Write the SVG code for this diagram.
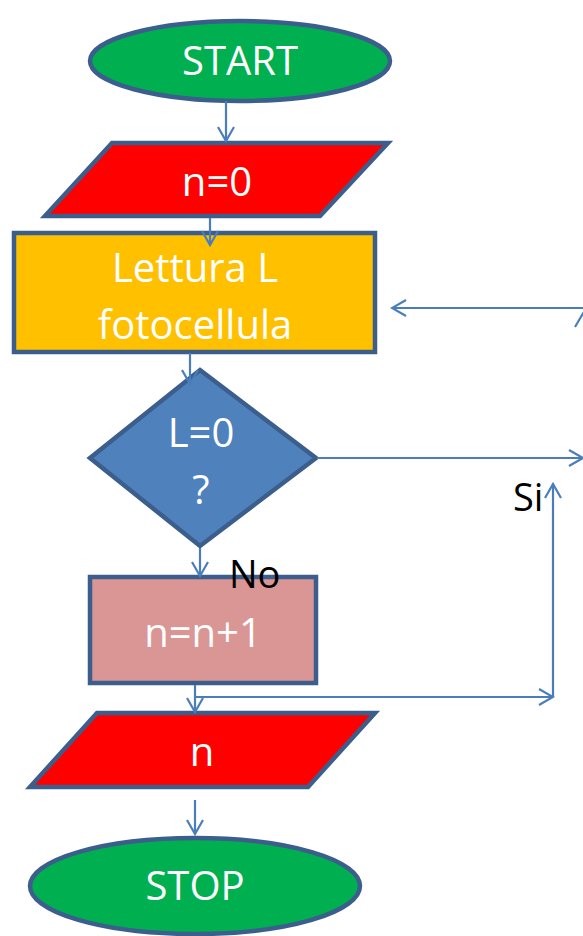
<svg xmlns="http://www.w3.org/2000/svg" width="583" height="936" viewBox="0 0 583 936">
<style>
.sh{stroke:#3B5E8C;stroke-width:4.5}
.t{font-family:"Open Sans","Liberation Sans",sans-serif;font-size:40px;fill:#fff;text-anchor:middle}
.k{font-family:"Open Sans","Liberation Sans",sans-serif;font-size:38px;fill:#000}
.c{fill:none;stroke:#4A7EBB;stroke-width:2.2}
</style>
<defs>
<marker id="a" viewBox="0 0 20 20" refX="18" refY="10" markerWidth="20" markerHeight="20" markerUnits="userSpaceOnUse" orient="auto">
<path d="M4,2 L18,10 L4,18" fill="none" stroke="#4A7EBB" stroke-width="2.2"/>
</marker>
</defs>
<g id="start"><ellipse class="sh" cx="240" cy="61" rx="150" ry="40" fill="#00B050"/><text class="t" x="240" y="75">START</text></g>
<g id="n0"><polygon class="sh" points="112,143 388,143 320,216 45,216" fill="#FF0000"/><text class="t" x="217" y="196">n=0</text></g>
<g id="lettura"><rect class="sh" x="14" y="233" width="361" height="119" fill="#FFC000"/><text class="t" x="195" y="282">Lettura L</text><text class="t" x="195" y="339">fotocellula</text></g>
<g id="cond"><polygon class="sh" points="200,370 316,458 200,546 90,458" fill="#4F81BD"/><text class="t" x="201" y="447">L=0</text><text class="t" x="201" y="504">?</text></g>
<g id="inc"><rect class="sh" x="90" y="577" width="226" height="106" fill="#D99694"/><text class="t" x="203" y="647">n=n+1</text></g>
<g id="out"><polygon class="sh" points="97,713 375,713 308,787 30,787" fill="#FF0000"/><text class="t" x="202" y="766">n</text></g>
<g id="stop"><ellipse class="sh" cx="195" cy="886" rx="165" ry="48" fill="#00B050"/><text class="t" x="195" y="900">STOP</text></g>
<g id="connectors">
<line class="c" x1="226" y1="101" x2="226" y2="141" marker-end="url(#a)"/>
<line class="c" x1="210" y1="218" x2="210" y2="245" marker-end="url(#a)"/>
<line class="c" x1="190" y1="353" x2="190" y2="384" marker-end="url(#a)"/>
<line class="c" x1="200" y1="548" x2="200" y2="576" marker-end="url(#a)"/>
<line class="c" x1="195" y1="685" x2="195" y2="712" marker-end="url(#a)"/>
<line class="c" x1="195" y1="800" x2="195" y2="834" marker-end="url(#a)"/>
<line class="c" x1="196" y1="697" x2="553" y2="697" marker-end="url(#a)"/>
<line class="c" x1="553" y1="697" x2="553" y2="484" marker-end="url(#a)"/>
<line class="c" x1="317" y1="458" x2="583" y2="458" marker-end="url(#a)"/>
<line class="c" x1="583" y1="308" x2="392" y2="308" marker-end="url(#a)"/>
<line class="c" x1="588" y1="305" x2="575" y2="327"/>
<text class="k" x="513" y="511">Si</text>
<text class="k" x="229" y="588">No</text>
</g>
</svg>
